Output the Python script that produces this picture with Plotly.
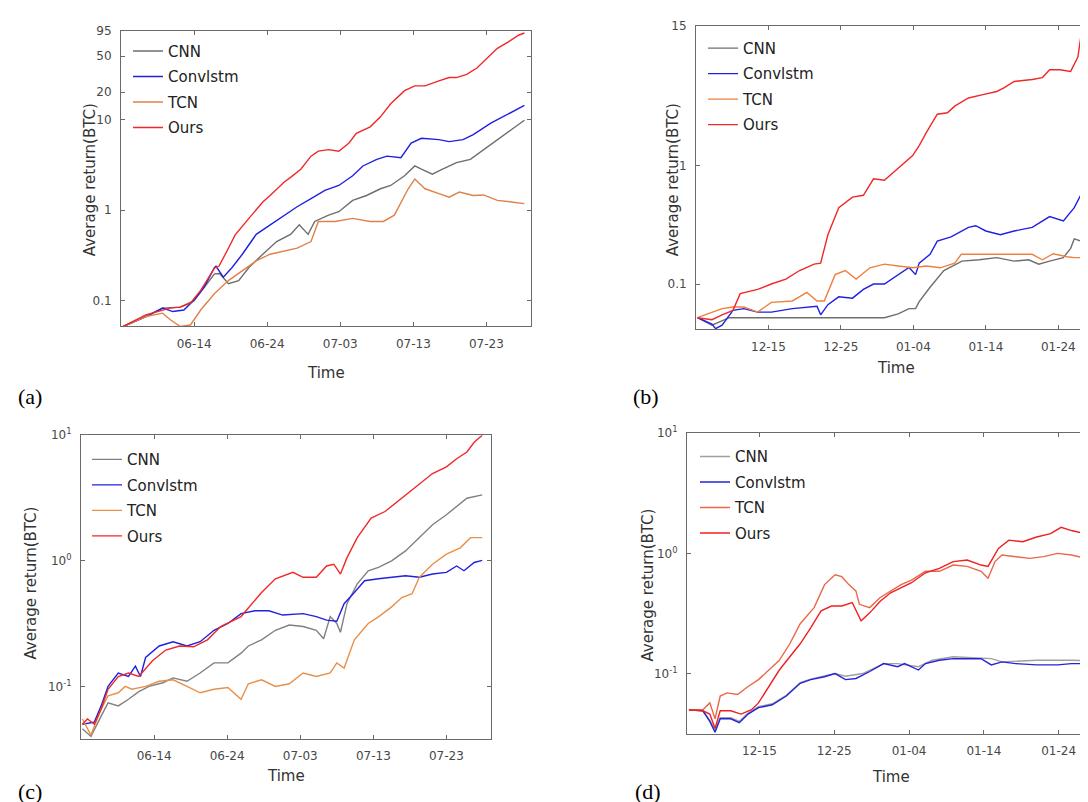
import plotly.graph_objects as go

# ---------------- data (x = days from panel start, y = average return in BTC) ----------------
A_CNN_x = [0.3,3.4,5.7,8.1,10.0,11.4,12.8,13.5,14.7,16.1,17.5,19.4,21.3,23.2,24.4,25.6,26.5,28.4,29.8,31.7,33.6,35.5,36.9,38.8,40.2,41.1,42.6,44.0,45.9,47.8,49.6,51.5,53.4,55.2]
A_CNN_y = [0.052,0.067,0.083,0.085,0.10,0.14,0.198,0.20,0.154,0.167,0.233,0.326,0.45,0.54,0.69,0.54,0.75,0.88,0.96,1.28,1.45,1.72,1.87,2.39,3.07,2.83,2.49,2.83,3.34,3.63,4.65,6.0,7.7,9.8]
A_LSTM_x = [0.3,3.4,5.7,7.1,8.6,10.0,11.4,12.8,13.0,14.0,15.2,16.6,18.5,20.4,22.3,24.1,26.0,27.9,29.8,31.7,33.1,35.0,36.4,38.3,39.7,41.1,43.5,44.9,46.8,48.2,50.6,53.0,55.2]
A_LSTM_y = [0.052,0.067,0.083,0.076,0.079,0.102,0.142,0.233,0.24,0.182,0.233,0.326,0.54,0.69,0.88,1.09,1.34,1.65,1.87,2.39,3.07,3.63,3.94,3.78,5.5,6.2,6.0,5.7,6.0,6.8,9.1,11.6,14.3]
A_TCN_x = [0.3,3.4,5.7,6.7,8.1,9.5,10.9,12.8,14.7,16.6,18.5,20.4,22.3,24.1,26.0,27.0,29.3,31.7,34.1,35.9,37.4,39.3,40.2,41.6,43.5,44.9,46.3,48.2,49.6,51.5,53.4,55.2]
A_TCN_y = [0.052,0.067,0.073,0.062,0.052,0.054,0.079,0.12,0.167,0.215,0.275,0.326,0.354,0.38,0.45,0.75,0.75,0.81,0.75,0.75,0.88,1.72,2.2,1.72,1.52,1.39,1.58,1.45,1.47,1.28,1.23,1.18]
A_OURS_x = [0.3,3.4,6.7,8.1,9.5,10.9,12.8,13.4,14.7,15.6,17.5,19.4,20.4,22.3,23.2,24.6,26.0,27.0,28.4,29.8,31.2,32.2,34.1,35.5,36.9,38.8,40.2,41.6,43.5,44.9,45.9,47.3,48.7,50.1,51.5,53.0,54.4,55.2]
A_OURS_y = [0.052,0.070,0.083,0.085,0.094,0.13,0.23,0.24,0.38,0.53,0.81,1.23,1.45,2.03,2.3,2.83,3.94,4.47,4.65,4.47,5.5,7.05,8.3,10.7,14.9,20.8,23.5,23.5,26.7,29.0,29.0,31.5,37.0,48.0,61.0,72.0,85.0,90.0]

B_CNN_x = [0.2,2.2,4.6,26.0,27.9,29.4,30.3,30.8,32.3,34.2,36.7,39.1,41.5,43.9,45.9,47.3,48.8,50.7,51.7,52.2,53.2,54.6]
B_CNN_y = [0.052,0.045,0.052,0.052,0.056,0.062,0.062,0.071,0.094,0.13,0.156,0.16,0.167,0.156,0.16,0.147,0.156,0.167,0.2,0.24,0.23,0.225]
B_LSTM_x = [0.2,2.2,2.7,3.6,5.1,6.6,8.5,10.4,13.3,15.8,16.7,17.2,18.2,19.7,21.6,23.1,24.5,26.0,27.9,29.4,30.3,30.8,32.3,33.3,35.2,37.6,38.6,40.0,42.0,43.9,46.4,48.8,50.7,52.2,53.2,54.6]
B_LSTM_y = [0.052,0.046,0.042,0.045,0.06,0.062,0.058,0.058,0.062,0.064,0.065,0.055,0.067,0.078,0.076,0.09,0.1,0.1,0.12,0.138,0.12,0.15,0.178,0.23,0.25,0.30,0.31,0.28,0.26,0.28,0.30,0.37,0.34,0.44,0.58,0.56]
B_TCN_x = [0.2,2.2,3.6,5.1,6.6,8.5,10.4,13.3,15.3,16.7,17.7,18.2,19.2,20.6,22.1,24.0,26.0,27.9,29.9,31.8,33.7,35.7,36.6,38.6,42.5,46.4,47.8,49.3,51.2,52.2,54.6]
B_TCN_y = [0.052,0.058,0.062,0.064,0.064,0.058,0.07,0.072,0.085,0.072,0.072,0.085,0.12,0.13,0.11,0.137,0.147,0.142,0.137,0.142,0.137,0.15,0.178,0.178,0.178,0.178,0.16,0.18,0.17,0.167,0.167]
B_OURS_x = [0.2,2.2,3.6,5.1,6.1,8.5,10.4,12.4,14.3,16.3,17.2,18.2,19.7,21.6,23.1,24.5,26.0,27.9,29.9,30.8,31.8,33.3,34.7,35.7,37.6,39.6,41.5,42.5,43.9,46.4,47.8,48.8,50.2,51.7,52.7,53.2,54.1,55.1]
B_OURS_y = [0.052,0.05,0.055,0.06,0.083,0.09,0.1,0.11,0.13,0.147,0.15,0.26,0.44,0.54,0.56,0.77,0.75,0.94,1.21,1.47,1.9,2.7,2.78,3.16,3.7,3.95,4.2,4.5,5.1,5.3,5.5,6.4,6.4,6.2,8.2,13.3,13.3,13.0]

C_CNN_x = [0.19,1.36,2.76,3.70,5.10,6.50,7.91,9.31,11.2,12.6,14.5,16.3,18.2,20.1,21.9,22.9,24.7,26.6,28.5,30.4,32.2,33.2,34.1,35.0,35.5,36.4,37.8,39.3,40.7,42.5,44.4,46.3,48.1,50.0,51.4,52.8,54.9]
C_CNN_y = [0.046,0.04,0.058,0.074,0.07,0.079,0.091,0.1,0.107,0.117,0.11,0.128,0.154,0.154,0.184,0.21,0.235,0.28,0.308,0.30,0.28,0.24,0.36,0.317,0.27,0.456,0.655,0.834,0.886,1.0,1.2,1.53,1.94,2.33,2.7,3.15,3.35]
C_LSTM_x = [0.19,1.82,2.76,3.70,5.10,6.50,7.44,8.14,8.84,10.7,12.6,14.5,16.3,18.2,20.1,21.9,23.8,25.7,27.6,30.4,32.2,33.6,35.0,36.0,37.4,38.8,40.7,42.5,44.4,46.3,48.1,50.0,51.4,52.4,53.8,54.9]
C_LSTM_y = [0.05,0.052,0.07,0.1,0.128,0.12,0.145,0.12,0.17,0.21,0.227,0.21,0.227,0.28,0.317,0.38,0.40,0.40,0.37,0.38,0.36,0.337,0.33,0.456,0.56,0.695,0.72,0.74,0.76,0.74,0.785,0.81,0.91,0.834,0.97,1.01]
C_TCN_x = [0.19,1.36,2.76,3.70,5.10,6.04,6.97,8.84,10.7,12.6,14.5,16.3,18.2,20.1,21.9,22.9,24.7,26.6,28.5,30.4,32.2,34.1,35.0,36.0,37.4,39.3,40.7,42.5,43.9,45.3,46.3,48.1,50.0,51.9,53.3,54.9]
C_TCN_y = [0.055,0.041,0.066,0.084,0.089,0.1,0.095,0.1,0.11,0.113,0.1,0.089,0.095,0.098,0.079,0.105,0.113,0.1,0.105,0.128,0.12,0.128,0.154,0.14,0.235,0.317,0.358,0.43,0.51,0.547,0.74,0.94,1.13,1.27,1.53,1.53]
C_OURS_x = [0.19,0.89,1.82,2.76,3.70,5.10,6.50,7.91,9.78,11.6,13.5,15.4,17.3,19.1,21.9,22.9,24.7,26.6,29.0,30.4,32.2,33.6,34.6,35.5,36.4,37.8,39.7,41.6,43.0,44.4,46.3,48.1,50.0,51.4,52.8,53.8,54.9]
C_OURS_y = [0.05,0.055,0.05,0.066,0.095,0.12,0.128,0.12,0.16,0.195,0.21,0.207,0.235,0.30,0.36,0.42,0.56,0.72,0.81,0.74,0.74,0.91,0.94,0.785,1.06,1.53,2.19,2.47,2.88,3.35,4.14,4.96,5.6,6.5,7.36,8.8,10.0]

D_CNN_x = [0.56,2.42,3.35,4.05,4.74,6.14,7.3,8.47,9.86,11.7,13.58,15.44,16.84,18.7,20.1,21.5,23.8,26.6,28.47,31.26,33.1,35.9,39.63,41.0,42.42,47.07,51.72,54.5]
D_CNN_y = [0.05,0.049,0.041,0.034,0.043,0.043,0.04,0.047,0.053,0.056,0.066,0.084,0.09,0.096,0.1,0.095,0.1,0.121,0.121,0.114,0.129,0.138,0.133,0.133,0.125,0.129,0.129,0.128]
D_LSTM_x = [0.56,2.42,3.35,4.05,4.74,6.14,7.3,8.47,9.86,11.7,13.58,15.44,16.84,18.7,20.1,21.5,22.9,24.74,26.6,28.47,29.4,31.26,32.19,34.05,35.9,37.77,39.63,41.0,42.42,44.28,47.07,49.86,51.72,54.5]
D_LSTM_y = [0.05,0.049,0.04,0.0325,0.042,0.042,0.039,0.046,0.052,0.055,0.065,0.083,0.089,0.094,0.1,0.089,0.091,0.104,0.121,0.114,0.121,0.107,0.121,0.129,0.133,0.133,0.133,0.118,0.125,0.121,0.118,0.118,0.121,0.121]
D_TCN_x = [0.56,2.42,3.35,4.05,4.74,5.67,7.07,8.47,9.86,11.26,12.65,14.05,15.44,17.3,18.7,20.1,21.0,21.95,22.9,23.35,24.74,26.14,27.53,28.93,30.33,32.19,34.05,35.9,37.77,39.63,40.56,41.5,42.42,44.28,46.14,48.0,49.86,51.72,53.58,54.5]
D_TCN_y = [0.05,0.05,0.057,0.042,0.065,0.069,0.067,0.078,0.089,0.107,0.129,0.177,0.26,0.354,0.55,0.665,0.64,0.55,0.485,0.377,0.354,0.43,0.485,0.55,0.6,0.71,0.71,0.80,0.78,0.71,0.62,0.855,0.97,0.94,0.91,0.94,1.0,0.97,0.91,0.91]
D_OURS_x = [0.56,2.42,3.35,4.05,4.74,6.14,7.53,8.93,9.86,11.26,12.65,14.05,15.44,16.84,18.23,19.63,21.0,22.4,22.9,23.58,24.74,26.14,27.53,28.93,30.33,32.19,34.05,35.9,37.77,39.63,40.56,41.95,43.35,45.2,47.07,48.93,50.33,51.72,53.58,54.5]
D_OURS_y = [0.05,0.049,0.046,0.035,0.049,0.049,0.046,0.05,0.057,0.078,0.107,0.138,0.177,0.24,0.333,0.365,0.365,0.39,0.333,0.275,0.32,0.40,0.47,0.52,0.57,0.69,0.75,0.855,0.88,0.80,0.78,1.1,1.29,1.25,1.37,1.46,1.65,1.55,1.46,1.37]

SERIES_NAMES = ["CNN", "Convlstm", "TCN", "Ours"]
TICK_DAYS = [10, 20, 30, 40, 50]
SUMMER_TICKS = ["06-14", "06-24", "07-03", "07-13", "07-23"]
WINTER_TICKS = ["12-15", "12-25", "01-04", "01-14", "01-24"]
A_YTICKS = [0.1, 1, 10, 20, 50, 95]
A_YTEXT = ["0.1", "1", "10", "20", "50", "95"]
B_YTICKS = [0.1, 1, 15]
B_YTEXT = ["0.1", "1", "15"]
POW_YTICKS = [0.1, 1, 10]
POW_YTEXT = ["10<sup>-1</sup>", "10<sup>0</sup>", "10<sup>1</sup>"]

# ---------------- layout helpers ----------------
W, H = 1088, 802
FONT = "DejaVu Sans, Verdana, sans-serif"
SERIF = "Liberation Serif, Times New Roman, serif"
AXC = "#6a6a6a"
TXT = "#474747"

def xd(a, b):
    return [a / W, min(b / W, 1.0)]

def yd(top, bottom):
    return [1 - bottom / H, 1 - top / H]

panels = {
    "a": dict(ax="", xpx=(113, 523), ypx=(14, 313), xr=[0, 56.1], yr=[-1.284, 1.978], leg="legend", lpos=(120, 18)),
    "b": dict(ax="2", xpx=(688, 1088), ypx=(9, 316), xr=[0, 55.2], yr=[-1.383, 1.176], leg="legend2", lpos=(695, 15)),
    "c": dict(ax="3", xpx=(73, 483), ypx=(423, 730), xr=[0, 56.1], yr=[-1.417, 1.0], leg="legend3", lpos=(79, 431)),
    "d": dict(ax="4", xpx=(679, 1088), ypx=(421, 725), xr=[0.3, 55.0], yr=[-1.502, 1.0], leg="legend4", lpos=(687, 428)),
}

colors = {
    "a": ["#6e6e6e", "#2020e0", "#e0804a", "#f02828"],
    "b": ["#6e6e6e", "#2020e0", "#ee8040", "#f02828"],
    "c": ["#808080", "#2020e0", "#e8904a", "#f02828"],
    "d": ["#a0a0a0", "#2525d8", "#e86848", "#f02020"],
}

data = {
    "a": [(A_CNN_x, A_CNN_y), (A_LSTM_x, A_LSTM_y), (A_TCN_x, A_TCN_y), (A_OURS_x, A_OURS_y)],
    "b": [(B_CNN_x, B_CNN_y), (B_LSTM_x, B_LSTM_y), (B_TCN_x, B_TCN_y), (B_OURS_x, B_OURS_y)],
    "c": [(C_CNN_x, C_CNN_y), (C_LSTM_x, C_LSTM_y), (C_TCN_x, C_TCN_y), (C_OURS_x, C_OURS_y)],
    "d": [(D_CNN_x, D_CNN_y), (D_LSTM_x, D_LSTM_y), (D_TCN_x, D_TCN_y), (D_OURS_x, D_OURS_y)],
}

fig = go.Figure()
layout = dict(
    width=W, height=H, margin=dict(l=0, r=0, t=0, b=0),
    paper_bgcolor="white", plot_bgcolor="white", showlegend=True,
    font=dict(family=FONT, color=TXT, size=12),
)

for key, p in panels.items():
    sfx = p["ax"]
    for i, name in enumerate(SERIES_NAMES):
        xs, ys = data[key][i]
        fig.add_trace(go.Scatter(
            x=xs, y=ys, mode="lines", name=name,
            line=dict(color=colors[key][i], width=1.4),
            xaxis="x" + sfx, yaxis="y" + sfx,
            legend=p["leg"], legendgroup=key + name, hoverinfo="skip",
        ))
    summer = key in ("a", "c")
    if key == "a":
        ytv, ytt = A_YTICKS, A_YTEXT
    elif key == "b":
        ytv, ytt = B_YTICKS, B_YTEXT
    else:
        ytv, ytt = POW_YTICKS, POW_YTEXT
    right_clipped = key in ("b", "d")
    layout["xaxis" + sfx] = dict(
        domain=xd(*p["xpx"]), range=p["xr"], anchor="y" + sfx,
        tickmode="array", tickvals=TICK_DAYS,
        ticktext=SUMMER_TICKS if summer else WINTER_TICKS,
        ticks="inside", ticklen=4, tickcolor=AXC, showline=True, linecolor=AXC,
        linewidth=1, mirror="ticks", showgrid=False, zeroline=False,
        tickfont=dict(size=12, color=TXT, family=FONT), ticklabelstandoff=6,
    )
    layout["yaxis" + sfx] = dict(
        domain=yd(*p["ypx"]), type="log", range=p["yr"], anchor="x" + sfx,
        tickmode="array", tickvals=ytv, ticktext=ytt,
        ticks="inside", ticklen=4, tickcolor=AXC, showline=True, linecolor=AXC,
        linewidth=1, mirror=False if right_clipped else "ticks",
        showgrid=False, zeroline=False,
        tickfont=dict(size=12, color=TXT, family=FONT), ticklabelstandoff=6,
    )
    lx, ly = p["lpos"]
    layout[p["leg"]] = dict(
        x=lx / W, y=1 - ly / H, xanchor="left", yanchor="top",
        bgcolor="rgba(0,0,0,0)", borderwidth=0, tracegroupgap=3,
        font=dict(size=15, color="#222222", family=FONT), itemwidth=30,
    )

annotations = []
def ann(text, x, y, size, family=FONT, color="#333333", angle=0):
    annotations.append(dict(text=text, x=x / W, y=1 - y / H, xref="paper", yref="paper",
                            showarrow=False, textangle=angle, xanchor="center", yanchor="middle",
                            font=dict(size=size, family=family, color=color)))

# axis titles
ann("Time", 318, 360, 15)
ann("Time", 888, 355, 15)
ann("Time", 278, 768, 15)
ann("Time", 883, 769, 15)
ann("Average return(BTC)", 82, 165, 15, angle=-90)
ann("Average return(BTC)", 665, 165, 15, angle=-90)
ann("Average return(BTC)", 23, 573, 15, angle=-90)
ann("Average return(BTC)", 640, 575, 15, angle=-90)
# panel labels
ann("(a)", 22, 384, 22, family=SERIF, color="#000000")
ann("(b)", 638, 384, 22, family=SERIF, color="#000000")
ann("(c)", 22, 783, 22, family=SERIF, color="#000000")
ann("(d)", 640, 783, 22, family=SERIF, color="#000000")

layout["annotations"] = annotations
fig.update_layout(**layout)
fig.write_html("out.html")
